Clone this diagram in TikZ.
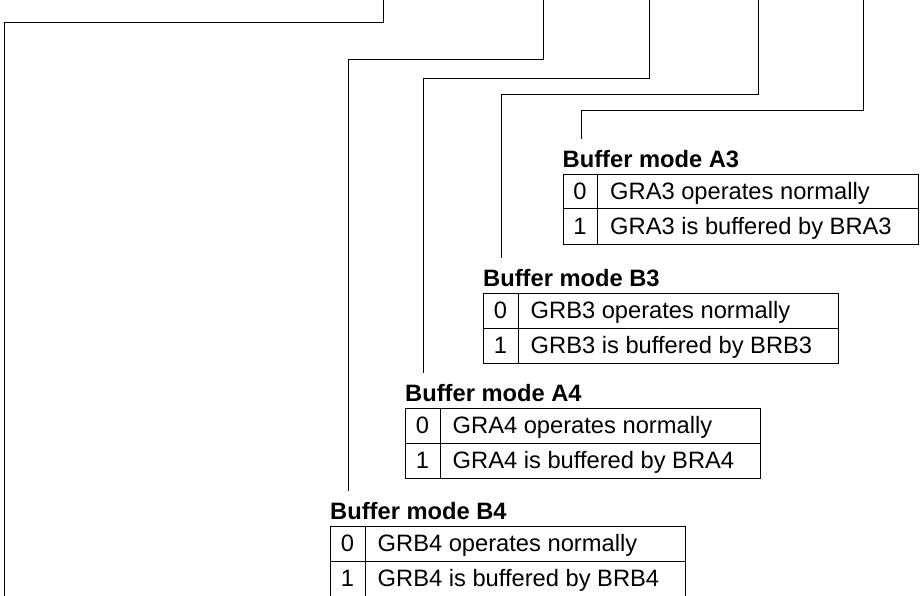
\documentclass[tikz,border=0pt]{standalone}
\usepackage{fontspec}
\setmainfont{Liberation Sans}
\usetikzlibrary{calc}
\tikzset{
  conn/.style={draw=black, line width=1pt},
  cellbox/.style={draw=black, line width=1pt},
  ttl/.style={font=\fontsize{23.7}{28}\selectfont\bfseries, inner sep=0pt, anchor=base west},
  celltxt/.style={font=\fontsize{23.7}{28}\selectfont, inner sep=0pt, anchor=base west},
  digit/.style={font=\fontsize{23.7}{28}\selectfont, inner sep=0pt, anchor=base},
}
% #1 name, #2 left x, #3 top y, #4 title, #5 row 0 text, #6 row 1 text
\newcommand\bufftable[6]{%
  \node[ttl] (#1t) at (#2,#3-6.5) {#4};
  \node[cellbox, inner sep=0pt, minimum width=355pt, minimum height=70pt, anchor=north west] (#1box) at (#2,#3) {};
  \draw[cellbox] (#2,#3+35) -- (#2+355,#3+35);
  \draw[cellbox] (#2+35,#3) -- (#2+35,#3+70);
  \node[digit] (#1d0) at (#2+17.5,#3+25.5) {0};
  \node[digit] (#1d1) at (#2+17.5,#3+60.5) {1};
  \node[celltxt] (#1r0) at (#2+47.5,#3+25.5) {#5};
  \node[celltxt] (#1r1) at (#2+47.5,#3+60.5) {#6};
}
\begin{document}
\begin{tikzpicture}[x=1pt,y=-1pt]
  \useasboundingbox (0,0) rectangle (921,595);
  \bufftable{A3}{562.5}{173.5}{Buffer mode A3}{GRA3 operates normally}{GRA3 is buffered by BRA3}
  \bufftable{B3}{483}{293}{Buffer mode B3}{GRB3 operates normally}{GRB3 is buffered by BRB3}
  \bufftable{A4}{405}{408}{Buffer mode A4}{GRA4 operates normally}{GRA4 is buffered by BRA4}
  \bufftable{B4}{330}{526}{Buffer mode B4}{GRB4 operates normally}{GRB4 is buffered by BRB4}
  % connector start and end points
  \coordinate (s1) at (383,-2);
  \coordinate (e1) at (4.5,600);
  \coordinate (s2) at (543,-2);
  \coordinate (e2) at ($(B4t.base west)+(18.5,-28.5)$);
  \coordinate (s3) at (649,-2);
  \coordinate (e3) at ($(A4t.base west)+(18.5,-28.5)$);
  \coordinate (s4) at (758,-2);
  \coordinate (e4) at ($(B3t.base west)+(18.5,-28.5)$);
  \coordinate (s5) at (863,-2);
  \coordinate (e5) at ($(A3t.base west)+(18.5,-28.5)$);
  \draw[conn] (s1) -- (383,22) -| (e1);
  \draw[conn] (s2) -- (543,59) -| (e2);
  \draw[conn] (s3) -- (649,78) -| (e3);
  \draw[conn] (s4) -- (758,94) -| (e4);
  \draw[conn] (s5) -- (863,110.5) -| (e5);
\end{tikzpicture}
\end{document}
